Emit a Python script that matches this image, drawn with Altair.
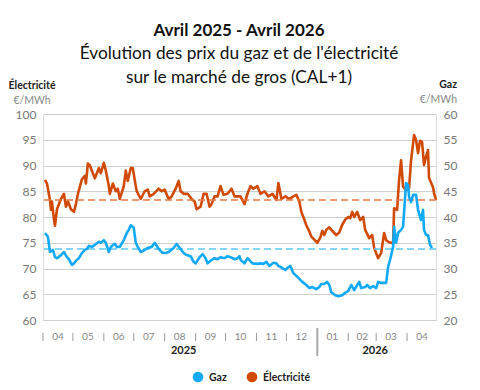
import altair as alt
import pandas as pd

FONT = "Lato"

title_line1 = "Avril 2025 - Avril 2026"
title_line2 = "Évolution des prix du gaz et de l'électricité"
title_line3 = "sur le marché de gros (CAL+1)"

elec_dates = [
    "2025-04-03", "2025-04-05", "2025-04-08", "2025-04-09", "2025-04-10", "2025-04-12", "2025-04-13",
    "2025-04-15", "2025-04-19", "2025-04-22", "2025-04-24", "2025-04-26", "2025-04-29", "2025-05-02",
    "2025-05-04", "2025-05-06", "2025-05-10", "2025-05-13", "2025-05-14", "2025-05-16", "2025-05-18",
    "2025-05-21", "2025-05-23", "2025-05-27", "2025-05-29", "2025-06-01", "2025-06-03", "2025-06-06",
    "2025-06-07", "2025-06-10", "2025-06-13", "2025-06-15", "2025-06-17", "2025-06-21", "2025-06-23",
    "2025-06-25", "2025-06-28", "2025-06-30", "2025-07-03", "2025-07-04", "2025-07-08", "2025-07-12",
    "2025-07-15", "2025-07-17", "2025-07-21", "2025-07-26", "2025-07-29", "2025-08-01", "2025-08-05",
    "2025-08-08", "2025-08-12", "2025-08-15", "2025-08-17", "2025-08-20", "2025-08-24", "2025-08-28",
    "2025-08-31", "2025-09-02", "2025-09-06", "2025-09-09", "2025-09-12", "2025-09-15", "2025-09-17",
    "2025-09-20", "2025-09-23", "2025-09-26", "2025-09-29", "2025-10-03", "2025-10-07", "2025-10-10",
    "2025-10-14", "2025-10-16", "2025-10-20", "2025-10-23", "2025-10-26", "2025-10-29", "2025-11-02",
    "2025-11-05", "2025-11-09", "2025-11-13", "2025-11-17", "2025-11-21", "2025-11-23", "2025-11-26",
    "2025-11-30", "2025-12-04", "2025-12-08", "2025-12-11", "2025-12-14", "2025-12-16", "2025-12-19",
    "2025-12-21", "2025-12-24", "2025-12-26", "2025-12-29", "2026-01-01", "2026-01-04", "2026-01-06",
    "2026-01-08", "2026-01-10", "2026-01-13", "2026-01-16", "2026-01-20", "2026-01-23", "2026-01-26",
    "2026-01-29", "2026-02-01", "2026-02-03", "2026-02-05", "2026-02-07", "2026-02-10", "2026-02-13",
    "2026-02-16", "2026-02-18", "2026-02-22", "2026-02-25", "2026-02-27", "2026-03-03", "2026-03-06",
    "2026-03-09", "2026-03-11", "2026-03-14", "2026-03-18", "2026-03-19", "2026-03-22", "2026-03-24",
    "2026-03-26", "2026-03-28", "2026-03-31", "2026-04-03", "2026-04-05", "2026-04-08", "2026-04-10",
    "2026-04-12", "2026-04-14", "2026-04-16", "2026-04-18", "2026-04-20", "2026-04-22", "2026-04-23",
    "2026-04-26", "2026-04-27", "2026-04-28", "2026-04-30",
]
elec_values = [
    87.2, 86.5, 83.3, 81.4, 83.0, 79.5, 78.3,
    81.5, 83.5, 84.5, 82.0, 83.0, 81.5, 81.0,
    82.5, 84.5, 87.3, 88.0, 86.5, 90.4, 90.0,
    88.5, 87.5, 89.5, 88.5, 90.5, 89.0, 86.0,
    84.5, 86.5, 85.0, 85.5, 83.5, 86.0, 89.0,
    87.0, 89.5, 89.5, 86.0, 85.0, 83.5, 85.0,
    85.3, 84.0, 84.5, 85.5, 85.0, 85.3, 83.5,
    84.0, 85.5, 87.0, 85.0, 84.5, 84.5, 83.5,
    83.0, 81.5, 82.0, 84.5, 84.5, 82.0, 82.5,
    84.0, 84.0, 86.0, 84.3, 84.5, 85.5, 84.0,
    84.0, 84.0, 82.5, 84.5, 86.0, 85.5, 86.0,
    84.5, 85.0, 84.0, 84.5, 83.3, 86.6, 83.5,
    84.0, 83.5, 84.0, 84.3, 83.0, 81.0, 79.5,
    78.4, 77.2, 76.2, 75.6, 75.0, 76.0, 77.3,
    76.5, 77.5, 78.0, 77.3, 76.5, 77.0, 78.5,
    79.5, 80.0, 79.8, 81.0, 80.0, 81.0, 79.4,
    80.0, 77.5, 75.9, 76.5, 74.0, 72.0, 73.0,
    76.9, 75.5, 75.1, 74.9, 81.7, 81.4, 87.2,
    91.0, 85.9, 85.2, 85.6, 91.0, 95.9, 95.0,
    92.4, 94.8, 94.6, 90.1, 91.7, 93.0, 87.6,
    86.2, 85.8, 84.7, 83.3,
]

gas_dates = [
    "2025-04-03", "2025-04-06", "2025-04-08", "2025-04-11", "2025-04-13", "2025-04-15", "2025-04-19",
    "2025-04-22", "2025-04-25", "2025-04-27", "2025-04-30", "2025-05-02", "2025-05-05", "2025-05-07",
    "2025-05-10", "2025-05-13", "2025-05-15", "2025-05-17", "2025-05-20", "2025-05-23", "2025-05-27",
    "2025-05-29", "2025-06-01", "2025-06-03", "2025-06-06", "2025-06-08", "2025-06-12", "2025-06-14",
    "2025-06-17", "2025-06-21", "2025-06-24", "2025-06-26", "2025-06-28", "2025-07-01", "2025-07-03",
    "2025-07-05", "2025-07-08", "2025-07-12", "2025-07-15", "2025-07-19", "2025-07-22", "2025-07-26",
    "2025-07-30", "2025-08-02", "2025-08-05", "2025-08-10", "2025-08-13", "2025-08-16", "2025-08-20",
    "2025-08-23", "2025-08-27", "2025-08-30", "2025-09-01", "2025-09-05", "2025-09-08", "2025-09-11",
    "2025-09-13", "2025-09-16", "2025-09-20", "2025-09-23", "2025-09-26", "2025-09-30", "2025-10-03",
    "2025-10-06", "2025-10-10", "2025-10-13", "2025-10-15", "2025-10-16", "2025-10-20", "2025-10-23",
    "2025-10-28", "2025-11-02", "2025-11-05", "2025-11-08", "2025-11-11", "2025-11-14", "2025-11-18",
    "2025-11-21", "2025-11-23", "2025-11-27", "2025-11-30", "2025-12-02", "2025-12-05", "2025-12-08",
    "2025-12-12", "2025-12-15", "2025-12-17", "2025-12-21", "2025-12-24", "2025-12-27", "2025-12-31",
    "2026-01-03", "2026-01-05", "2026-01-08", "2026-01-11", "2026-01-13", "2026-01-15", "2026-01-19",
    "2026-01-22", "2026-01-26", "2026-01-29", "2026-02-01", "2026-02-03", "2026-02-04", "2026-02-07",
    "2026-02-10", "2026-02-12", "2026-02-14", "2026-02-18", "2026-02-20", "2026-02-23", "2026-02-26",
    "2026-03-01", "2026-03-03", "2026-03-06", "2026-03-11", "2026-03-13", "2026-03-15", "2026-03-18",
    "2026-03-19", "2026-03-21", "2026-03-23", "2026-03-26", "2026-03-28", "2026-03-31", "2026-04-02",
    "2026-04-03", "2026-04-05", "2026-04-07", "2026-04-10", "2026-04-12", "2026-04-15", "2026-04-17",
    "2026-04-18", "2026-04-20", "2026-04-22", "2026-04-24", "2026-04-26",
]
gas_values = [
    36.9, 36.1, 33.2, 33.6, 32.2, 32.0, 32.6,
    33.2, 32.2, 31.8, 30.7, 31.0, 31.7, 32.0,
    33.0, 33.6, 33.8, 34.4, 34.2, 34.6, 35.2,
    35.0, 35.5, 35.0, 33.2, 34.2, 34.8, 34.2,
    34.2, 35.5, 36.9, 37.5, 38.4, 37.9, 35.0,
    34.2, 33.2, 33.6, 34.0, 34.2, 35.0, 33.8,
    33.0, 33.0, 33.2, 34.0, 34.8, 34.0, 33.0,
    32.6, 32.4, 31.3, 31.0, 32.2, 32.8, 32.0,
    31.0, 31.5, 32.0, 31.8, 32.2, 32.0, 32.4,
    32.2, 31.8, 32.0, 32.4, 31.7, 31.0, 32.0,
    31.0, 30.9, 31.0, 30.9, 31.3, 30.5, 31.1,
    31.0, 30.5, 30.1, 29.7, 30.1, 30.5, 29.1,
    28.4, 27.8, 27.4, 26.8, 26.2, 26.4, 26.0,
    26.4, 27.0, 27.0, 27.4, 26.8, 25.4, 24.8,
    24.6, 24.8, 25.3, 25.6, 26.4, 26.8, 25.8,
    26.8, 27.4, 26.2, 26.4, 26.8, 26.2, 26.6,
    26.2, 27.4, 27.2, 27.2, 30.3, 31.7, 34.2,
    38.1, 35.0, 36.9, 37.5, 38.1, 46.6, 46.2,
    43.9, 42.9, 44.3, 44.3, 41.4, 39.4, 41.4,
    37.5, 36.5, 36.5, 34.6, 34.0,
]

elec_last = 83.3
gas_last = 33.8

elec_axis_values = [60, 65, 70, 75, 80, 85, 90, 95, 100]
gas_axis_values = [20, 25, 30, 35, 40, 45, 50, 55, 60]

month_labels = ["04", "05", "06", "07", "08", "09", "10", "11", "12", "01", "02", "03", "04"]
month_label_dates = ["2025-04-16", "2025-05-16", "2025-06-16", "2025-07-16", "2025-08-16", "2025-09-16",
                     "2025-10-16", "2025-11-16", "2025-12-16", "2026-01-16", "2026-02-15", "2026-03-16",
                     "2026-04-16"]
tick_dates = ["2025-04-01", "2025-05-01", "2025-06-01", "2025-07-01", "2025-08-01", "2025-09-01",
              "2025-10-01", "2025-11-01", "2025-12-01", "2026-02-01", "2026-03-01", "2026-04-01"]
year_labels = ["2025", "2026"]
year_label_dates = ["2025-08-20", "2026-02-28"]
year_divider = ["2026-01-01"]

legend_labels = ["Gaz", "Électricité"]

BLUE = "#12A9F6"
ORANGE = "#D04A04"
BLUE_DASH = "#5CC6FA"
ORANGE_DASH = "#E57A45"

x_scale = alt.Scale(
    domain=[alt.DateTime(year=2025, month=4, date=1, utc=True),
            alt.DateTime(year=2026, month=4, date=30, utc=True)],
    nice=False,
)

W, H = 393, 206

elec_df = pd.DataFrame({"date": elec_dates, "v": elec_values})
gas_df = pd.DataFrame({"date": gas_dates, "v": gas_values})


def xenc(field="date"):
    return alt.X(f"{field}:T", scale=x_scale, axis=None)


axis_common = dict(domain=False, ticks=False, tickSize=0, labelPadding=7, labelFont=FONT,
                   labelFontSize=12, labelColor="#777777", title=None)

elec_line = alt.Chart(elec_df).mark_line(color=ORANGE, strokeWidth=2.6, strokeJoin="round").encode(
    x=xenc(),
    y=alt.Y("v:Q", scale=alt.Scale(domain=[60, 100], nice=False, zero=False),
            axis=alt.Axis(orient="left", values=elec_axis_values, grid=True, gridColor="#cfcfcf",
                          gridWidth=1, **axis_common)),
)
gas_line = alt.Chart(gas_df).mark_line(color=BLUE, strokeWidth=2.6, strokeJoin="round").encode(
    x=xenc(),
    y=alt.Y("v:Q", scale=alt.Scale(domain=[20, 60], nice=False, zero=False),
            axis=alt.Axis(orient="right", values=gas_axis_values, grid=False, **axis_common)),
)
elec_rule = alt.Chart(pd.DataFrame({"v": [elec_last]})).mark_rule(
    color=ORANGE_DASH, strokeDash=[7, 4], strokeWidth=1.6).encode(
    y=alt.Y("v:Q", scale=alt.Scale(domain=[60, 100], nice=False, zero=False), axis=None))
gas_rule = alt.Chart(pd.DataFrame({"v": [gas_last]})).mark_rule(
    color=BLUE_DASH, strokeDash=[7, 4], strokeWidth=1.6).encode(
    y=alt.Y("v:Q", scale=alt.Scale(domain=[20, 60], nice=False, zero=False), axis=None))

ticks = alt.Chart(pd.DataFrame({"d": tick_dates})).mark_rule(color="#9a9a9a", strokeWidth=1).encode(
    x=xenc("d"), y=alt.value(219), y2=alt.value(227))
month_text = alt.Chart(pd.DataFrame({"d": month_label_dates, "t": month_labels})).mark_text(
    font=FONT, fontSize=10, color="#888888", baseline="alphabetic").encode(
    x=xenc("d"), y=alt.value(226), text="t:N")
divider = alt.Chart(pd.DataFrame({"d": year_divider})).mark_rule(color="#a8a8a8", strokeWidth=2).encode(
    x=xenc("d"), y=alt.value(214), y2=alt.value(242))
year_text = alt.Chart(pd.DataFrame({"d": year_label_dates, "t": year_labels})).mark_text(
    font=FONT, fontSize=11, fontWeight="bold", color="#222222", baseline="alphabetic").encode(
    x=xenc("d"), y=alt.value(240), text="t:N")

one = pd.DataFrame({"k": [0]})


def label(text, x, y, size, bold=False, color="#222222", align="center"):
    return alt.Chart(one).mark_text(
        font=FONT, fontSize=size, fontWeight="bold" if bold else "normal", color=color,
        align=align, baseline="alphabetic").encode(x=alt.value(x), y=alt.value(y), text=alt.value(text))


titles = [
    label(title_line1, 196, -78, 17, bold=True, color="#111111"),
    label(title_line2, 196, -55, 17.3, color="#111111"),
    label(title_line3, 196, -31, 17.3, color="#111111"),
    label("Électricité", -11, -25, 10.5, bold=True),
    label("€/MWh", -11, -10, 10.5, color="#888888"),
    label("Gaz", 414, -26, 10.5, bold=True, align="right"),
    label("€/MWh", 414, -11, 10.5, color="#888888", align="right"),
    label(legend_labels[0], 166, 267, 10.5, bold=True, align="left"),
    label(legend_labels[1], 220, 267, 10.5, bold=True, align="left"),
]
legend_dots = [
    alt.Chart(one).mark_point(filled=True, shape="circle", size=115, color=BLUE, opacity=1).encode(
        x=alt.value(155), y=alt.value(263)),
    alt.Chart(one).mark_point(filled=True, shape="circle", size=115, color=ORANGE, opacity=1).encode(
        x=alt.value(209), y=alt.value(263)),
]

chart = alt.layer(
    elec_line, gas_rule, elec_rule, gas_line,
    ticks, month_text, divider, year_text, *titles, *legend_dots,
).resolve_scale(y="independent").properties(
    width=W, height=H,
    autosize=alt.AutoSizeParams(type="none"),
    padding={"left": 35, "top": 106, "right": 36, "bottom": 68},
).configure_view(stroke=None).configure(background="white")

chart.save("out.html", embed_options={"renderer": "svg", "actions": False})
